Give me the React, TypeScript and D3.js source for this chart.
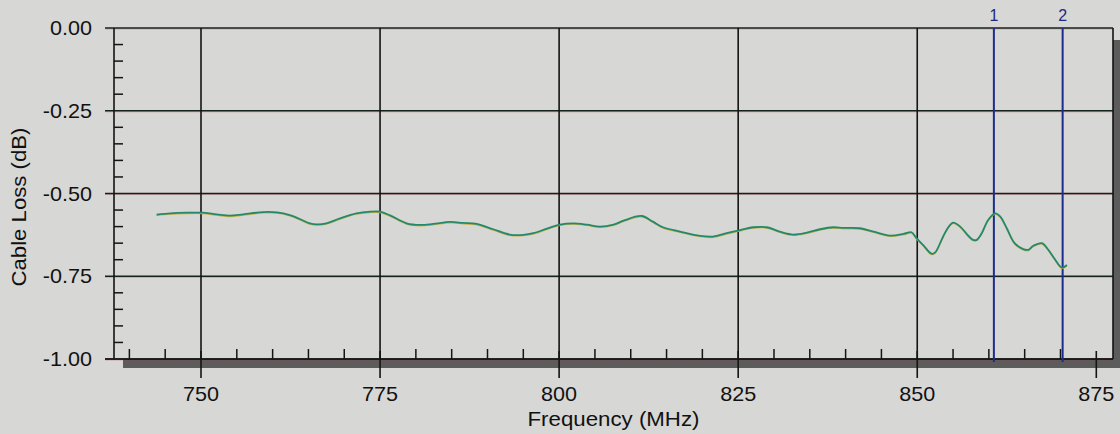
import React from "react";
import * as d3 from "d3";

// Measured cable loss across the band
const freqMHz = [
  743.8, 745.7, 748.0, 750.1, 752.2, 754.0, 755.9, 758.7, 760.6, 762.4, 763.8, 765.2,
  766.2, 767.5, 769.4, 771.7, 773.6, 775.0, 776.4, 778.7, 780.6, 782.4, 784.8, 786.6,
  788.5, 790.8, 793.1, 795.0, 796.4, 798.3, 800.1, 802.0, 803.9, 805.7, 807.6, 809.0,
  811.5, 813.1, 814.5, 816.9, 819.7, 821.5, 823.4, 825.0, 827.1, 829.0, 830.8, 832.7,
  834.6, 836.4, 838.3, 839.7, 842.0, 843.9, 846.2, 848.1, 849.2, 849.9, 850.8, 852.0,
  852.5, 853.4, 854.1, 855.0, 856.0, 856.9, 857.8, 858.3, 859.0, 859.9, 860.9, 861.6,
  862.5, 863.6, 864.8, 865.5, 866.2, 867.4, 868.3, 869.2, 870.2, 870.9,
];
const lossDb = [
  -0.564, -0.560, -0.558, -0.558, -0.563, -0.567, -0.563, -0.556, -0.557, -0.565, -0.577, -0.590,
  -0.593, -0.590, -0.575, -0.560, -0.555, -0.555, -0.566, -0.590, -0.595, -0.592, -0.586, -0.589,
  -0.592, -0.608, -0.624, -0.625, -0.620, -0.606, -0.594, -0.590, -0.594, -0.600, -0.594, -0.582,
  -0.568, -0.585, -0.602, -0.615, -0.628, -0.630, -0.620, -0.612, -0.602, -0.602, -0.615, -0.624,
  -0.618, -0.608, -0.602, -0.604, -0.605, -0.615, -0.627, -0.622, -0.617, -0.635, -0.655, -0.682,
  -0.678, -0.640, -0.610, -0.588, -0.600, -0.622, -0.640, -0.640, -0.620, -0.580, -0.560, -0.570,
  -0.605, -0.650, -0.668, -0.670, -0.658, -0.650, -0.670, -0.698, -0.724, -0.716,
];

const xMajorTicks = [750, 775, 800, 825, 850, 875];
const xGridTicks = [750, 775, 800, 825, 850];
const xMinorTicks = d3.range(740, 875, 5).filter((f) => f % 25 !== 0);
const yMajorTicks = [0, -0.25, -0.5, -0.75, -1];
const yMinorTicks = d3.range(0, -1.0001, -0.05).filter((v) => Math.abs((v * 100) % 25) > 0.5);

const markerFreqs = [860.7, 870.3];
const markerLabels = ["1", "2"];

const W = 1120;
const H = 434;
const plotLeft = 114;
const plotRight = 1113;
const plotTop = 28;
const plotBottom = 359;

const FONT = "'Liberation Sans', Arial, Helvetica, sans-serif";
const fmtY = (v: number) => d3.format(".2f")(v).replace("\u2212", "-");

export default function App() {
  const x = d3.scaleLinear().domain([750, 875]).range([201, 1096.3]);
  const y = d3.scaleLinear().domain([0, -1]).range([plotTop, plotBottom]);

  const pts: [number, number][] = freqMHz.map((f, i) => [f, lossDb[i]]);
  const line = d3
    .line<[number, number]>()
    .x((d) => x(d[0]))
    .y((d) => y(d[1]))
    .curve(d3.curveCatmullRom.alpha(0.5));
  const path = line(pts) || "";

  const bg = "#d7d7d5";

  return (
    <svg
      width={W}
      height={H}
      style={{ position: "absolute", left: 0, top: 0, display: "block", fontFamily: FONT }}
    >
      <rect x={0} y={0} width={W} height={H} fill={bg} />

      {/* drop shadow behind the plot frame */}
      <rect
        x={plotLeft + 9}
        y={plotTop + 12}
        width={plotRight - plotLeft + 20}
        height={plotBottom - plotTop - 3}
        fill="#5c5c5c"
      />
      <rect x={plotLeft} y={plotTop} width={plotRight - plotLeft} height={plotBottom - plotTop} fill={bg} />

      {/* horizontal grid lines */}
      {yMajorTicks.map((v) => (
        <g key={"hy" + v}>
          <line x1={105} x2={plotRight} y1={y(v) + 1} y2={y(v) + 1} stroke="#b04848" strokeOpacity={0.45} strokeWidth={0.8} />
          <line x1={105} x2={plotRight} y1={y(v)} y2={y(v)} stroke="#16221c" strokeWidth={1.4} />
        </g>
      ))}

      {/* vertical grid lines */}
      {xGridTicks.map((f) => (
        <line key={"gx" + f} x1={x(f)} x2={x(f)} y1={plotTop} y2={plotBottom} stroke="#141414" strokeWidth={1.6} />
      ))}

      {/* right frame edge */}
      <line x1={plotRight} x2={plotRight} y1={plotTop} y2={plotBottom} stroke="#141414" strokeWidth={1.6} />

      {/* y axis */}
      <line x1={plotLeft} x2={plotLeft} y1={plotTop} y2={plotBottom} stroke="#141414" strokeWidth={1.6} />
      {yMinorTicks.map((v) => (
        <line key={"my" + v} x1={plotLeft} x2={plotLeft + 9} y1={y(v)} y2={y(v)} stroke="#141414" strokeWidth={1.5} />
      ))}
      {yMajorTicks.map((v) => (
        <text
          key={"ty" + v}
          x={92}
          y={y(v)}
          textAnchor="end"
          dominantBaseline="central"
          fontSize={20}
          fill="#111"
          transform={`translate(${92 * -0.08},0) scale(1.08,1)`}
        >
          {fmtY(v)}
        </text>
      ))}

      {/* x axis */}
      {xMinorTicks.map((f) => (
        <line key={"mx" + f} x1={x(f)} x2={x(f)} y1={plotBottom - 10} y2={plotBottom} stroke="#141414" strokeWidth={1.5} />
      ))}
      {xMajorTicks.map((f) => (
        <line key={"Mx" + f} x1={x(f)} x2={x(f)} y1={plotBottom - 8} y2={plotBottom + 19} stroke="#141414" strokeWidth={1.6} />
      ))}
      <line x1={105} x2={plotRight} y1={plotBottom} y2={plotBottom} stroke="#141414" strokeWidth={1.4} />
      {xMajorTicks.map((f) => (
        <text
          key={"tx" + f}
          x={x(f)}
          y={401}
          textAnchor="middle"
          fontSize={20}
          fill="#111"
          transform={`translate(${x(f) * -0.08},0) scale(1.08,1)`}
        >
          {f}
        </text>
      ))}

      {/* axis titles */}
      <text
        x={(plotLeft + plotRight) / 2}
        y={426}
        textAnchor="middle"
        fontSize={20}
        fill="#111"
        textLength={172}
        lengthAdjust="spacingAndGlyphs"
      >
        Frequency (MHz)
      </text>
      <text
        transform={`translate(26,207) rotate(-90)`}
        textAnchor="middle"
        fontSize={20}
        fill="#111"
        textLength={159}
        lengthAdjust="spacingAndGlyphs"
      >
        Cable Loss (dB)
      </text>

      {/* markers */}
      {markerFreqs.map((f, i) => (
        <g key={"mk" + i}>
          <line x1={x(f)} x2={x(f)} y1={plotTop} y2={plotBottom + 3} stroke="#1c2c8c" strokeWidth={2} />
          <text x={x(f)} y={21} textAnchor="middle" fontSize={16} fill="#1c2a7c" fontFamily={FONT}>
            {markerLabels[i]}
          </text>
        </g>
      ))}

      {/* trace */}
      <path d={path} fill="none" stroke="#c9b046" strokeWidth={1.2} transform="translate(0,0.9)" />
      <path d={path} fill="none" stroke="#24896b" strokeWidth={1.8} />
    </svg>
  );
}
